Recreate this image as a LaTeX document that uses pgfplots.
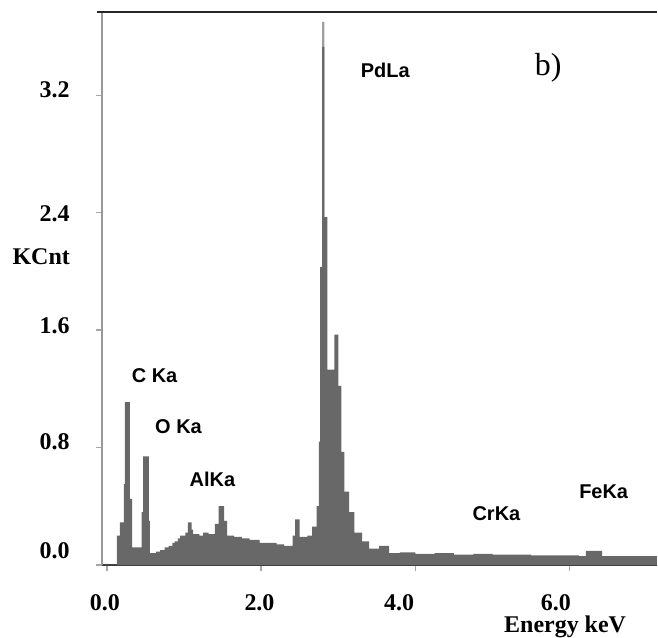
\documentclass[border=0pt]{standalone}
\usepackage{fontspec}
\setmainfont{Liberation Serif}
\newfontfamily\lsans{Liberation Sans}
\usepackage{pgfplots}
\pgfplotsset{compat=1.18}
\definecolor{spec}{RGB}{104,104,104}
\definecolor{spectop}{RGB}{158,158,158}

\newcommand{\tl}{\fontsize{24bp}{28bp}\selectfont\bfseries}
\newcommand{\pk}{\fontsize{20bp}{24bp}\selectfont\lsans\bfseries}

\begin{document}
\begin{tikzpicture}
  \begin{axis}[
      scale only axis,
      width=556bp, height=554bp,
      xmin=-0.065, xmax=7.128, ymin=0, ymax=3.769,
      axis x line*=bottom, axis y line*=left,
      x axis line style={draw=black!75, line width=2.5bp},
      y axis line style={draw=gray!80, line width=2bp},
      xtick={0,2,4,6}, ytick={0,0.8,1.6,2.4,3.2},
      xticklabels={}, yticklabels={},
      tick align=outside, major tick length=6bp,
      tick style={draw=gray!70, line width=1.5bp},
      clip=false,
    ]
    % lighter tip of the Pd La line (drawn first, the spectrum covers its foot)
    \addplot[const plot, fill=spectop, draw=none] coordinates {
      (2.79,3.70) (2.82,3.70)
    } \closedcycle;
    % spectrum, counts in KCnt per channel
    \addplot[const plot, fill=spec, draw=none] coordinates {
      (0.13,0.20) (0.17,0.29) (0.22,0.55) (0.235,1.11) (0.30,0.45)
      (0.33,0.12) (0.45,0.36) (0.47,0.74) (0.545,0.30) (0.56,0.08)
      (0.64,0.09) (0.69,0.10) (0.75,0.12) (0.80,0.13) (0.85,0.15)
      (0.88,0.16) (0.92,0.18) (0.95,0.20) (1.02,0.22) (1.05,0.29)
      (1.10,0.24) (1.12,0.21) (1.20,0.20) (1.25,0.22) (1.32,0.21)
      (1.40,0.28) (1.45,0.40) (1.52,0.30) (1.56,0.20) (1.65,0.19)
      (1.75,0.18) (1.85,0.17) (1.98,0.15) (2.10,0.15) (2.20,0.14)
      (2.30,0.13) (2.41,0.20) (2.44,0.31) (2.50,0.19) (2.60,0.20)
      (2.66,0.26) (2.72,0.40) (2.75,0.84) (2.765,2.03) (2.79,3.53)
      (2.82,2.37) (2.86,1.33) (2.95,1.57) (3.00,1.22) (3.04,0.77)
      (3.08,0.50) (3.14,0.36) (3.21,0.22) (3.31,0.16) (3.40,0.11)
      (3.53,0.13) (3.66,0.08) (3.80,0.085) (4.00,0.075) (4.25,0.08)
      (4.50,0.07) (4.75,0.075) (5.00,0.07) (5.25,0.07) (5.50,0.065)
      (5.80,0.065) (6.12,0.06) (6.21,0.095) (6.42,0.06) (6.80,0.06)
      (7.128,0.06)
    } \closedcycle;

    \draw[line width=2.5bp, black!85] (axis cs:-0.13,3.769) -- (axis cs:7.128,3.769);

    % tick labels
    \node[anchor=east, inner sep=0, font=\tl] at (axis cs:-0.479,3.24) {3.2};
    \node[anchor=east, inner sep=0, font=\tl] at (axis cs:-0.479,2.39) {2.4};
    \node[anchor=east, inner sep=0, font=\tl] at (axis cs:-0.479,1.63) {1.6};
    \node[anchor=east, inner sep=0, font=\tl] at (axis cs:-0.479,0.84) {0.8};
    \node[anchor=east, inner sep=0, font=\tl] at (axis cs:-0.479,0.095) {0.0};
    \node[inner sep=0, font=\tl] at (axis cs:-0.026,-0.26) {0.0};
    \node[inner sep=0, font=\tl] at (axis cs:1.979,-0.26) {2.0};
    \node[inner sep=0, font=\tl] at (axis cs:3.79,-0.26) {4.0};
    \node[inner sep=0, font=\tl] at (axis cs:5.821,-0.255) {6.0};
    \node[inner sep=0, font=\tl] at (axis cs:-0.85,2.10) {KCnt};
    \node[inner sep=0, font=\tl] at (axis cs:5.94,-0.422) {Energy keV};
    \node[inner sep=0, font=\fontsize{32bp}{36bp}\selectfont] at (axis cs:5.72,3.39) {b)};

    % peak labels
    \node[inner sep=0, font=\pk] at (axis cs:3.61,3.37) {PdLa};
    \node[inner sep=0, font=\pk] at (axis cs:0.62,1.29) {C Ka};
    \node[inner sep=0, font=\pk] at (axis cs:0.93,0.94) {O Ka};
    \node[inner sep=0, font=\pk] at (axis cs:1.37,0.585) {AlKa};
    \node[inner sep=0, font=\pk] at (axis cs:5.05,0.35) {CrKa};
    \node[inner sep=0, font=\pk] at (axis cs:6.44,0.50) {FeKa};

    % page extent
    \path (axis cs:-1.384,-0.483) rectangle (axis cs:7.128,3.850);
  \end{axis}
\end{tikzpicture}
\end{document}
